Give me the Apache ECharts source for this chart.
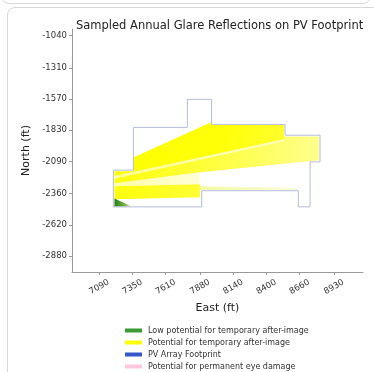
<!DOCTYPE html>
<html>
<head>
<meta charset="utf-8">
<script src="https://cdn.jsdelivr.net/npm/echarts@6/dist/echarts.min.js"></script>
<style>
html,body{margin:0;padding:0;width:374px;height:372px;overflow:hidden;background:#fff;}
#prev{position:absolute;left:1px;top:-18px;width:370px;height:22px;border:1px solid #d8d8d8;border-radius:8px;box-sizing:border-box;}
#card{position:absolute;left:7px;top:7px;width:420px;height:420px;border:1px solid #d8d8d8;border-radius:8px;box-sizing:border-box;}
#chart{position:absolute;left:0;top:0;width:374px;height:372px;}
</style>
</head>
<body>
<div id="prev"></div>
<div id="card"></div>
<div id="chart"></div>
<script>
// ---- Data (feet) ----
const xTickLabels = [7090, 7350, 7610, 7880, 8140, 8400, 8660, 8930];
const yTickLabels = [-1040, -1310, -1570, -1830, -2090, -2360, -2620, -2880];

const footprintEast  = [7200, 7200, 7357, 7357, 7780, 7780, 7970, 7970, 8546, 8546, 8820, 8820, 8742, 8742, 8650, 8650, 7893, 7893, 7200];
const footprintNorth = [-2470, -2163, -2163, -1806, -1806, -1572, -1572, -1781, -1781, -1871, -1871, -2094, -2094, -2470, -2470, -2335, -2335, -2470, -2470];

// glare: potential for temporary after-image (yellow)
const glareUpperEast  = [7209, 7357, 7357, 7966, 7966, 8538, 8538, 8538, 7209];
const glareUpperNorth = [-2172, -2172, -2058, -1762, -1787, -1787, -1879, -1904, -2213];
const glareStreakEast  = [7209, 8538, 8538, 7209];
const glareStreakNorth = [-2213, -1904, -1921, -2234];
const glareMidEast  = [7209, 8538, 8538, 8812, 8812, 7879, 7209];
const glareMidNorth = [-2234, -1921, -1883, -1883, -2080, -2180, -2272];
const glareGapEast  = [7209, 7879, 7879, 7209];
const glareGapNorth = [-2272, -2180, -2280, -2297];
const glareLowEast  = [7209, 7879, 7879, 7209];
const glareLowNorth = [-2297, -2280, -2389, -2406];
const glareStripEast  = [7879, 8648, 8648, 7879];
const glareStripNorth = [-2297, -2310, -2330, -2330];

// glare: low potential for temporary after-image (green)
const glareGreenEast  = [7209, 7209, 7345];
const glareGreenNorth = [-2400, -2466, -2466];

const seriesNames = [
  'Low potential for temporary after-image',
  'Potential for temporary after-image',
  'PV Array Footprint',
  'Potential for permanent eye damage'
];

const chart = echarts.init(document.getElementById('chart'), null, {renderer: 'canvas'});
const G = echarts.graphic.LinearGradient;

const yellowPolys = [
  {e: glareUpperEast, n: glareUpperNorth, fill: new G(0, 0, 1, 1, [{offset: 0, color: 'rgba(255,255,0,1)'}, {offset: 0.6, color: 'rgba(255,255,0,0.97)'}, {offset: 1, color: 'rgba(255,255,0,0.8)'}])},
  {e: glareStreakEast, n: glareStreakNorth, fill: new G(0, 0, 1, 0, [{offset: 0, color: 'rgba(255,255,60,0.55)'}, {offset: 1, color: 'rgba(255,255,60,0.35)'}])},
  {e: glareMidEast, n: glareMidNorth, fill: new G(0, 0, 1, 0, [{offset: 0, color: 'rgba(255,255,0,0.95)'}, {offset: 0.5, color: 'rgba(255,255,0,0.75)'}, {offset: 1, color: 'rgba(255,255,0,0.45)'}])},
  {e: glareGapEast, n: glareGapNorth, fill: new G(0, 0, 1, 0, [{offset: 0, color: 'rgba(255,255,60,0.45)'}, {offset: 1, color: 'rgba(255,255,60,0.2)'}])},
  {e: glareLowEast, n: glareLowNorth, fill: new G(0, 0, 1, 0, [{offset: 0, color: 'rgba(255,255,0,0.95)'}, {offset: 1, color: 'rgba(255,255,0,0.8)'}])},
  {e: glareStripEast, n: glareStripNorth, fill: new G(0, 0, 1, 0, [{offset: 0, color: 'rgba(230,245,80,0.5)'}, {offset: 1, color: 'rgba(230,245,80,0.2)'}])}
];
const greenPolys = [
  {e: glareGreenEast, n: glareGreenNorth, fill: new G(0, 0, 1, 0, [{offset: 0, color: 'rgba(40,125,20,1)'}, {offset: 0.6, color: 'rgba(80,160,30,0.8)'}, {offset: 1, color: 'rgba(150,200,40,0.3)'}])}
];

function polySeries(name, color, polys, z) {
  return {
    name: name,
    type: 'custom',
    z: z,
    itemStyle: {color: color},
    clip: true,
    data: polys.map((p, i) => [p.e[0], p.n[0], i]),
    encode: {x: 0, y: 1},
    renderItem: function (params, api) {
      const p = polys[params.dataIndex];
      const pts = p.e.map((e, k) => api.coord([e, p.n[k]]));
      return {type: 'polygon', shape: {points: pts}, style: {fill: p.fill, stroke: null}};
    }
  };
}

const font = 'DejaVu Sans';

chart.setOption({
  animation: false,
  backgroundColor: 'transparent',
  textStyle: {fontFamily: font},
  title: {
    text: 'Sampled Annual Glare Reflections on PV Footprint',
    left: 76, top: 20,
    padding: 0,
    textStyle: {fontFamily: font, fontSize: 11.5, fontWeight: 'normal', color: '#222'}
  },
  legend: {
    orient: 'vertical',
    left: 125, top: 326,
    padding: 0,
    icon: 'rect',
    itemWidth: 17, itemHeight: 4, itemGap: 3,
    textStyle: {fontFamily: font, fontSize: 8, color: '#333', lineHeight: 9, padding: [0, 0, 0, 1]},
    data: [
      {name: seriesNames[0], itemStyle: {color: '#3a9a35'}},
      {name: seriesNames[1], itemStyle: {color: '#ffff00'}},
      {name: seriesNames[2], itemStyle: {color: '#3458cc'}},
      {name: seriesNames[3], itemStyle: {color: '#ffc6dc'}}
    ],
    selectedMode: false
  },
  grid: {left: 72, top: 29, right: 11, bottom: 100},
  xAxis: {
    type: 'value',
    min: 6876, max: 9157,
    name: 'East (ft)', nameLocation: 'middle', nameGap: 30,
    nameTextStyle: {fontFamily: font, fontSize: 11, color: '#222'},
    axisLine: {show: true, lineStyle: {color: '#999', width: 1}},
    axisTick: {show: true, length: 3, lineStyle: {color: '#999'}, customValues: xTickLabels},
    axisLabel: {customValues: xTickLabels, rotate: 30, align: 'center', verticalAlign: 'middle', margin: 15, fontSize: 8.5, color: '#333', fontFamily: font, formatter: v => String(v)},
    splitLine: {show: false}
  },
  yAxis: {
    type: 'value',
    min: -3014, max: -984,
    name: 'North (ft)', nameLocation: 'middle', nameGap: 37,
    nameTextStyle: {fontFamily: font, fontSize: 11, color: '#222'},
    axisLine: {show: true, lineStyle: {color: '#999', width: 1}},
    axisTick: {show: true, length: 3, lineStyle: {color: '#999'}, customValues: yTickLabels},
    axisLabel: {customValues: yTickLabels, margin: 5, fontSize: 8.5, color: '#333', fontFamily: font, formatter: v => String(v)},
    splitLine: {show: false}
  },
  series: [
    polySeries(seriesNames[1], '#ffff00', yellowPolys, 2),
    polySeries(seriesNames[0], '#3a9a35', greenPolys, 3),
    {
      name: seriesNames[2],
      type: 'line',
      z: 4,
      symbol: 'none',
      itemStyle: {color: '#3458cc'},
      lineStyle: {color: '#b4bcd6', width: 1},
      data: footprintEast.map((e, i) => [e, footprintNorth[i]])
    },
    {
      name: seriesNames[3],
      type: 'line',
      symbol: 'none',
      itemStyle: {color: '#ffc6dc'},
      data: []
    }
  ]
});
</script>
</body>
</html>
